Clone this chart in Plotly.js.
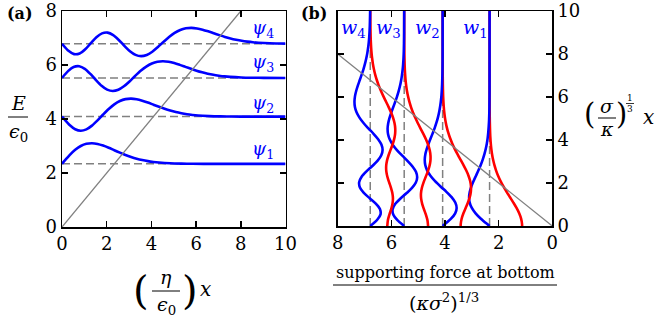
<!DOCTYPE html>
<html><head><meta charset="utf-8">
<script src="https://cdn.plot.ly/plotly-3.0.1.min.js"></script>
<style>body{margin:0;background:#fff}#chart{width:655px;height:320px}</style>
</head><body><div id="chart"></div>
<script>
// Energy levels (a) / dashed verticals (b)
const energies = [2.338, 4.088, 5.521, 6.787];
const levelLabelsA = ['ψ<sub>1</sub>', 'ψ<sub>2</sub>', 'ψ<sub>3</sub>', 'ψ<sub>4</sub>'];
const levelLabelsB = ['w<sub>1</sub>', 'w<sub>2</sub>', 'w<sub>3</sub>', 'w<sub>4</sub>'];

// positions along the axis (x in (a), height in (b))
const s1 = [0, 0.09, 0.34, 0.59, 0.84, 1.09, 1.34, 1.59, 1.84, 2.09, 2.34, 2.59, 2.84, 3.09, 3.34, 3.59, 3.84, 4.09, 4.34, 4.84, 5.34, 5.84, 6.34, 10];
const psi1 = [0, 0.089, 0.324, 0.521, 0.662, 0.742, 0.764, 0.738, 0.678, 0.597, 0.506, 0.415, 0.330, 0.256, 0.193, 0.142, 0.102, 0.072, 0.050, 0.022, 0.009, 0.004, 0.001, 0];
const int1 = [1.818, 1.814, 1.761, 1.655, 1.506, 1.329, 1.140, 0.951, 0.773, 0.613, 0.475, 0.360, 0.267, 0.194, 0.138, 0.097, 0.066, 0.045, 0.030, 0.013, 0.005, 0.002, 0.001, 0];

const s2 = [0, 0.09, 0.34, 0.59, 0.84, 1.09, 1.34, 1.59, 1.84, 2.09, 2.34, 2.59, 2.84, 3.09, 3.34, 3.59, 3.84, 4.09, 4.34, 4.59, 4.84, 5.09, 5.34, 5.59, 5.84, 6.09, 6.59, 7.09, 7.59, 8.09, 10];
const psi2 = [0, -0.087, -0.313, -0.468, -0.522, -0.472, -0.334, -0.140, 0.078, 0.283, 0.455, 0.578, 0.648, 0.667, 0.645, 0.592, 0.521, 0.442, 0.363, 0.289, 0.223, 0.168, 0.124, 0.089, 0.063, 0.043, 0.020, 0.008, 0.003, 0.001, 0];
const int2 = [1.007, 1.011, 1.062, 1.162, 1.288, 1.414, 1.516, 1.576, 1.584, 1.538, 1.445, 1.315, 1.160, 0.995, 0.830, 0.675, 0.536, 0.415, 0.314, 0.233, 0.169, 0.121, 0.084, 0.058, 0.039, 0.026, 0.011, 0.004, 0.002, 0.001, 0];

const s3 = [0, 0.27, 0.52, 0.77, 1.02, 1.27, 1.52, 1.77, 2.02, 2.27, 2.52, 2.77, 3.02, 3.27, 3.52, 3.77, 4.02, 4.27, 4.52, 4.77, 5.02, 5.27, 5.52, 5.77, 6.02, 6.27, 6.52, 6.77, 7.02, 7.27, 7.52, 8.02, 8.52, 9.02, 10];
const psi3 = [0, 0.253, 0.405, 0.434, 0.338, 0.148, -0.081, -0.291, -0.434, -0.484, -0.438, -0.310, -0.130, 0.072, 0.263, 0.422, 0.537, 0.601, 0.619, 0.598, 0.550, 0.484, 0.410, 0.337, 0.268, 0.207, 0.156, 0.115, 0.083, 0.058, 0.040, 0.018, 0.008, 0.003, 0];
const int3 = [1.336, 1.300, 1.216, 1.108, 1.009, 0.947, 0.938, 0.986, 1.078, 1.195, 1.312, 1.407, 1.463, 1.470, 1.428, 1.341, 1.220, 1.077, 0.923, 0.771, 0.627, 0.497, 0.385, 0.292, 0.217, 0.157, 0.112, 0.078, 0.054, 0.036, 0.024, 0.010, 0.004, 0.002, 0];

const s4 = [0, 0.29, 0.54, 0.79, 1.04, 1.29, 1.54, 1.79, 2.04, 2.29, 2.54, 2.79, 3.04, 3.29, 3.54, 3.79, 4.04, 4.29, 4.54, 4.79, 5.04, 5.29, 5.54, 5.79, 6.04, 6.29, 6.54, 6.79, 7.04, 7.29, 7.54, 7.79, 8.04, 8.29, 8.54, 8.79, 9.29, 9.79, 10];
const psi4 = [0, -0.261, -0.384, -0.361, -0.207, 0.020, 0.240, 0.385, 0.413, 0.321, 0.140, -0.077, -0.276, -0.412, -0.460, -0.416, -0.294, -0.123, 0.069, 0.250, 0.401, 0.510, 0.571, 0.588, 0.568, 0.522, 0.460, 0.390, 0.320, 0.254, 0.197, 0.149, 0.109, 0.079, 0.055, 0.038, 0.017, 0.007, 0.004];
const int4 = [0.952, 0.991, 1.075, 1.171, 1.244, 1.269, 1.235, 1.155, 1.052, 0.958, 0.899, 0.891, 0.936, 1.024, 1.135, 1.247, 1.337, 1.390, 1.396, 1.356, 1.274, 1.159, 1.023, 0.877, 0.732, 0.595, 0.472, 0.366, 0.277, 0.206, 0.149, 0.107, 0.074, 0.051, 0.035, 0.023, 0.010, 0.004, 0.003];

const redScale = 0.667;
const levelSpan = [0, 10];
const potX = [0, 8];
const potY = [0, 8];
const ticksA_x = [0, 2, 4, 6, 8, 10];
const ticksA_y = [0, 2, 4, 6, 8];
const ticksB_x = [0, 2, 4, 6, 8];
const ticksB_y = [0, 2, 4, 6, 8, 10];

const S = [s1, s2, s3, s4], P = [psi1, psi2, psi3, psi4], I = [int1, int2, int3, int4];
const BLUE = '#0000ff', RED = '#ff0000', GRAY = '#808080';
const dashLine = {color: GRAY, width: 1.5, dash: '8px,4px'};
const traces = [];
energies.forEach((E) => {
  traces.push({x: levelSpan, y: [E, E], xaxis: 'x', yaxis: 'y', mode: 'lines', line: dashLine, hoverinfo: 'skip'});
  traces.push({x: [E, E], y: levelSpan, xaxis: 'x2', yaxis: 'y2', mode: 'lines', line: dashLine, hoverinfo: 'skip'});
});
energies.forEach((E, i) => {
  traces.push({x: S[i], y: P[i].map(p => E + p), xaxis: 'x', yaxis: 'y', mode: 'lines',
    line: {color: BLUE, width: 2.6, shape: 'spline', smoothing: 0.8}});
  traces.push({x: I[i].map(v => E - redScale * v), y: S[i], xaxis: 'x2', yaxis: 'y2', mode: 'lines',
    line: {color: RED, width: 2.6, shape: 'spline', smoothing: 0.8}});
  traces.push({x: P[i].map(p => E + p), y: S[i], xaxis: 'x2', yaxis: 'y2', mode: 'lines',
    line: {color: BLUE, width: 2.6, shape: 'spline', smoothing: 0.8}});
});
traces.push({x: potX, y: potY, xaxis: 'x', yaxis: 'y', mode: 'lines', line: {color: GRAY, width: 1.3}});
traces.push({x: potX, y: potY, xaxis: 'x2', yaxis: 'y2', mode: 'lines', line: {color: GRAY, width: 1.3}});

const W = 655, H = 320;
const px = x => x / W, py = y => 1 - y / H;
const FONT = 'DejaVu Serif';
const axBase = {ticks: 'inside', ticklen: 6, tickwidth: 1.5, tickcolor: '#000', showline: true, linewidth: 1.5,
  linecolor: '#000', mirror: 'ticks', showgrid: false, zeroline: false, tickfont: {family: FONT, size: 18, color: '#000'}};

function ann(x, y, text, size, color) {
  return {xref: 'paper', yref: 'paper', x: px(x), y: py(y), text: text, showarrow: false,
    xanchor: 'center', yanchor: 'middle', font: {family: FONT, size: size, color: color || '#000'}};
}
function hline(x0, x1, y, w) {
  return {type: 'line', xref: 'paper', yref: 'paper', x0: px(x0), x1: px(x1), y0: py(y), y1: py(y), line: {color: '#000', width: w || 1}};
}
const annotations = [
  ann(20, 14, '<b>(a)</b>', 16),
  ann(314, 13, '<b>(b)</b>', 16),
  // (a) y title
  ann(18, 103, '<i>E</i>', 19),
  ann(18, 132, '<i>ϵ</i><sub>0</sub>', 19),
  // (a) x title
  ann(141, 290, '(', 40),
  ann(166, 277, '<i>η</i>', 19),
  ann(166, 305, '<i>ϵ</i><sub>0</sub>', 19),
  ann(190, 290, ')', 40),
  ann(205, 289, '<i>x</i>', 20),
  // (b) x title
  ann(445, 272, 'supporting force at bottom', 16),
  ann(444, 302, '(<i>κσ</i><sup>2</sup>)<sup>1/3</sup>', 19),
  // (b) right title
  ann(589, 114, '(', 29),
  ann(607, 106, '<i>σ</i>', 19),
  ann(607, 129, '<i>κ</i>', 19),
  ann(621, 114, ')', 29),
  ann(630, 98, '1', 9),
  ann(630, 109, '3', 9),
  ann(648, 117, '<i>x</i>', 20)
];
const psiY = [150, 104, 63, 29];
levelLabelsA.forEach((t, i) => annotations.push(ann(263, psiY[i], '<i>' + t.replace('<sub>', '</i><sub>'), 18, BLUE)));
const wX = [475, 427, 388, 354];
levelLabelsB.forEach((t, i) => annotations.push(ann(wX[i], 28, '<i>' + t.replace('<sub>', '</i><sub>'), 19, BLUE)));

const shapes = [hline(8, 28, 117, 1), hline(152, 180, 291, 1), hline(333, 557, 285, 1), hline(598, 616, 118, 1), hline(626, 634, 103.5, 0.8)];

const layout = {
  width: W, height: H, margin: {l: 0, r: 0, t: 0, b: 0}, paper_bgcolor: '#fff', plot_bgcolor: '#fff', showlegend: false,
  font: {family: FONT, size: 18, color: '#000'},
  xaxis: Object.assign({}, axBase, {domain: [px(62), px(285.5)], range: [0, 10], tickvals: ticksA_x, anchor: 'y'}),
  yaxis: Object.assign({}, axBase, {domain: [py(227), py(11)], range: [0, 8], tickvals: ticksA_y, anchor: 'x'}),
  xaxis2: Object.assign({}, axBase, {domain: [px(337.7), px(552.3)], range: [8, 0], tickvals: ticksB_x, anchor: 'y2'}),
  yaxis2: Object.assign({}, axBase, {domain: [py(226), py(11)], range: [0, 10], tickvals: ticksB_y, anchor: 'x2', side: 'right'}),
  annotations: annotations, shapes: shapes
};
Plotly.newPlot('chart', traces, layout, {staticPlot: true});
</script></body></html>
